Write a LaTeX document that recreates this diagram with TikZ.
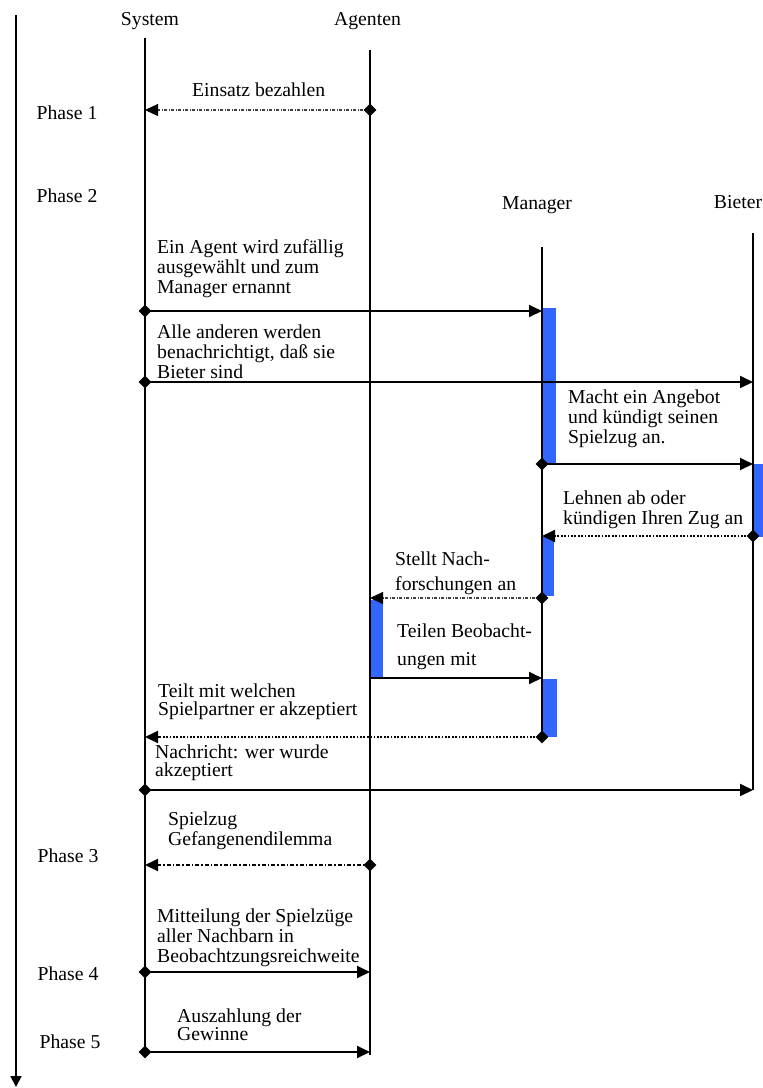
\documentclass[tikz,border=0pt]{standalone}
\usepackage{fontspec}
\setmainfont{Liberation Serif}
\usetikzlibrary{arrows.meta,shapes.geometric}
\definecolor{actblue}{HTML}{3366FF}
\tikzset{
  lifeline/.style={line width=1.8pt},
  msg/.style={line width=1.9pt,-{Triangle[length=13pt,width=12pt]}},
  dotmsg/.style={msg,dash pattern=on 1.8pt off 1.6pt},
  thindot/.style={line width=1.1pt,draw=black!75,-{Triangle[length=13pt,width=12pt,black]},dash pattern=on 3pt off 1.5pt on 1pt off 1.5pt},
  dashdot/.style={msg,dash pattern=on 4pt off 2pt on 1.5pt off 2pt},
  dia/.style={diamond,fill=black,inner sep=0pt,minimum width=13pt,minimum height=13pt},
  act/.style={fill=actblue,draw=none},
  lbl/.style={inner sep=0pt,anchor=base,font=\fontsize{19.7}{20}\selectfont},
  txt/.style={inner sep=0pt,anchor=base west,align=left,font=\fontsize{19.7}{#1}\selectfont},
  txt/.default=20
}
\begin{document}
\begin{tikzpicture}[x=1pt,y=-1pt]
\useasboundingbox (0,0) rectangle (763,1088);
% time axis
\coordinate (t0) at (16,15);
\coordinate (t1) at (16,1087);
\draw[line width=1.8pt,-{Triangle[length=11pt,width=11pt]}] (t0) -- (t1);
% headers
\node[lbl] (hS) at (150,25) {System};
\node[lbl] (hA) at (367.5,25) {Agenten};
\node[lbl] (hM) at (537,209) {Manager};
\node[lbl] (hB) at (738,208) {Bieter};
% phases
\node[lbl] (p1) at (67,119) {Phase 1};
\node[lbl] (p2) at (67,202) {Phase 2};
\node[lbl] (p3) at (68,862) {Phase 3};
\node[lbl] (p4) at (68,980) {Phase 4};
\node[lbl] (p5) at (70,1048) {Phase 5};
% activation bars
\fill[act] (542,308) rectangle (556,463);
\fill[act] (753,464) rectangle (763,537);
\fill[act] (542,537) rectangle (554,596);
\fill[act] (371,600) rectangle (383,677);
\fill[act] (543,679) rectangle (557,737);
% lifelines
\coordinate (S0) at (145,38);   \coordinate (S1) at (145,1053);
\coordinate (A0) at (370,50);   \coordinate (A1) at (370,1055);
\coordinate (M0) at (542,247);  \coordinate (M1) at (542,737);
\coordinate (B0) at (753,233);  \coordinate (B1) at (753,790);
\draw[lifeline] (S0) -- (S1);
\draw[lifeline] (A0) -- (A1);
\draw[lifeline] (M0) -- (M1);
\draw[lifeline] (B0) -- (B1);
% message points
\coordinate (a1) at (370,110);  \coordinate (s1) at (145,110);
\coordinate (s2) at (145,311);  \coordinate (m2) at (542,311);
\coordinate (s3) at (145,382);  \coordinate (b3) at (753,382);
\coordinate (m4) at (542,464);  \coordinate (b4) at (753,464);
\coordinate (b5) at (753,536);  \coordinate (m5) at (542,536);
\coordinate (m6) at (542,598);  \coordinate (a6) at (370,598);
\coordinate (a7) at (370,678);  \coordinate (m7) at (542,678);
\coordinate (m8) at (542,737);  \coordinate (s8) at (145,737);
\coordinate (s9) at (145,790);  \coordinate (b9) at (753,790);
\coordinate (a10) at (370,865); \coordinate (s10) at (145,865);
\coordinate (s11) at (145,972); \coordinate (a11) at (370,972);
\coordinate (s12) at (145,1052);\coordinate (a12) at (370,1052);
% messages
\draw[thindot] (a1) -- (s1);
\draw[msg] (s2) -- (m2);
\draw[msg] (s3) -- (b3);
\draw[msg] (m4) -- (b4);
\draw[dotmsg] (b5) -- (m5);
\draw[thindot] (m6) -- (a6);
\draw[msg] (a7) -- (m7);
\draw[dotmsg] (m8) -- (s8);
\draw[msg] (s9) -- (b9);
\draw[dashdot] (a10) -- (s10);
\draw[msg] (s11) -- (a11);
\draw[msg] (s12) -- (a12);
% start diamonds
\foreach \p in {a1,s2,s3,m4,b5,m6,m8,s9,a10,s11,s12} \node[dia] at (\p) {};
% message texts (anchored at the baseline of their last line)
\node[txt] (t1) at (192,96) {Einsatz bezahlen};
\node[txt] (t2) at (157,293) {Ein Agent wird zufällig\\ausgewählt und zum\\Manager ernannt};
\node[txt] (t3) at (157,378) {Alle anderen werden\\benachrichtigt, daß sie\\Bieter sind};
\node[txt] (t4) at (568,443) {Macht ein Angebot\\und kündigt seinen\\Spielzug an.};
\node[txt] (t5) at (563,524) {Lehnen ab oder\\kündigen Ihren Zug an};
\node[txt=25] (t6) at (395,590) {Stellt Nach-\\forschungen an};
\node[txt=28] (t7) at (397,665) {Teilen Beobacht-\\ungen mit};
\node[txt=18] (t8) at (158,715) {Teilt mit welchen\\Spielpartner er akzeptiert};
\node[txt=18] (t9) at (155,776) {Nachricht: wer wurde\\akzeptiert};
\node[txt=18] (t10) at (168,845) {Spielzug\\Gefangenendilemma};
\node[txt] (t11) at (157,962) {Mitteilung der Spielzüge\\aller Nachbarn in\\Beobachtzungsreichweite};
\node[txt=18] (t12) at (177,1040) {Auszahlung der\\Gewinne};
\end{tikzpicture}
\end{document}
